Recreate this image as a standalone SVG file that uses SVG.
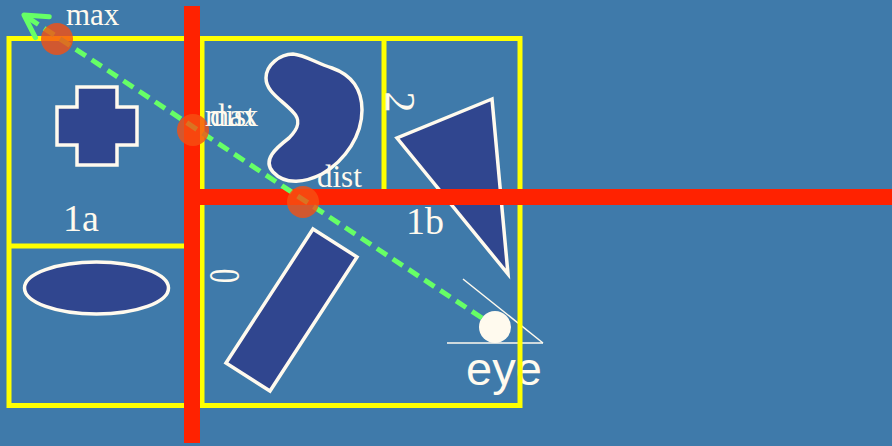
<svg xmlns="http://www.w3.org/2000/svg" width="892" height="446" viewBox="0 0 892 446">
  <defs>
    <style>
      .shape { fill: #30468F; stroke: #FFFAEE; stroke-width: 3.5; stroke-linejoin: miter; }
      .box { fill: none; stroke: #FFFF00; stroke-width: 5; }
      .bar { fill: #FF2200; }
      .hit { fill: #F65012; fill-opacity: 0.8; }
      .lbl { font-family: "Liberation Serif", "Times New Roman", serif; fill: #FFFAEE; }
      .eye { font-family: "Liberation Sans", Arial, sans-serif; fill: #FFFAEE; }
      .ray { fill: none; stroke: #66FF66; stroke-width: 5; stroke-dasharray: 12 7; }
    </style>
    <marker id="chev" markerUnits="userSpaceOnUse" markerWidth="40" markerHeight="40" refX="30" refY="20" orient="auto" viewBox="0 0 40 40">
      <path d="M8,7.5 L30,20 L8,32.5" fill="none" stroke="#66FF66" stroke-width="5" stroke-linecap="round" stroke-linejoin="round"/>
    </marker>
  </defs>
  <rect width="892" height="446" fill="#3F7AAA"/>

  <g id="cross"><polygon class="shape" points="77,87 117,87 117,107 137,107 137,145 117,145 117,165 77,165 77,145 57,145 57,107 77,107"/></g>
  <g id="ellipse"><ellipse class="shape" cx="96.5" cy="288" rx="72" ry="26"/></g>
  <g id="kidney"><path class="shape" d="M293,54 C305,55 316,63 332,68 C352,75 362,90 362,110 C362,135 346,160 322,174 C306,182 286,186 273,172 C262,160 276,148 289,138 C299,128 301,120 293,112 C282,100 266,92 266,78 C266,65 280,54 293,54 Z"/></g>
  <g id="triangle"><polygon class="shape" points="492,99 397,138 508,274"/></g>
  <g id="rect"><polygon class="shape" points="313,229 357,257 270,391 226,363"/></g>

  <g id="eye">
    <circle cx="495" cy="327" r="16" fill="#FFFAEE"/>
    <line x1="447" y1="343" x2="543" y2="343" stroke="#FFFAEE" stroke-width="1.5"/>
    <line x1="463" y1="279" x2="543" y2="343" stroke="#FFFAEE" stroke-width="1.5"/>
    <text class="eye" x="466" y="385" font-size="47">eye</text>
  </g>

  <g id="cells">
    <rect class="box" x="9" y="38.5" width="511" height="367"/>
    <line class="box" x1="202" y1="38.5" x2="202" y2="405.5"/>
    <line class="box" x1="384" y1="38.5" x2="384" y2="198"/>
    <line class="box" x1="9" y1="246" x2="186" y2="246"/>
  </g>

  <g id="splits">
    <rect class="bar" x="184" y="6" width="16" height="437"/>
    <rect class="bar" x="184" y="189" width="708" height="16"/>
  </g>

  <g id="connectors">
    <polyline class="ray" points="482,318 24,15" marker-end="url(#chev)"/>
  </g>

  <g id="hits">
    <circle class="hit" cx="57" cy="39" r="16"/>
    <circle class="hit" cx="193" cy="130" r="16"/>
    <circle class="hit" cx="303" cy="202" r="16"/>
  </g>

  <g id="labels">
    <text class="lbl" x="66" y="25" font-size="31">max</text>
    <text class="lbl" x="205" y="126" font-size="31">max</text>
    <text class="lbl" x="210" y="126" font-size="31">dist</text>
    <text class="lbl" x="317" y="187" font-size="31">dist</text>
    <text class="lbl" x="63" y="231" font-size="38">1a</text>
    <text class="lbl" x="406" y="234" font-size="38">1b</text>
    <text class="lbl" font-size="42" text-anchor="middle" transform="translate(400,102) rotate(90)" y="14">2</text>
    <text class="lbl" font-size="44" text-anchor="middle" transform="translate(225,276) rotate(90) scale(0.65,1)" y="15">0</text>
  </g>
</svg>
